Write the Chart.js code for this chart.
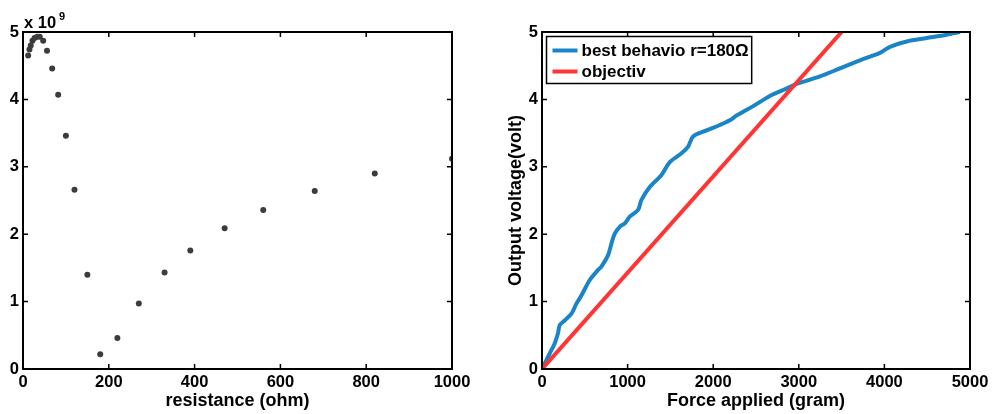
<!DOCTYPE html>
<html>
<head>
<meta charset="utf-8">
<script src="https://cdn.jsdelivr.net/npm/chart.js@4"></script>
<style>
  html, body { margin: 0; padding: 0; background: #fff; }
  #wrap { position: relative; width: 995px; height: 414px; }
  canvas { position: absolute; top: 0; }
  #leftChart { left: 0; }
  #rightChart { left: 497px; }
</style>
</head>
<body>
<div id="wrap">
  <canvas id="leftChart" width="497" height="414"></canvas>
  <canvas id="rightChart" width="498" height="414"></canvas>
</div>
<script>
// left panel: response vs resistance (y in units of 1e9)
const resistance = [12, 15, 18, 22, 27, 33, 39, 47, 56, 68, 82, 100, 120, 150, 180, 220, 270, 330, 390, 470, 560, 680, 820, 1000];
const response = [4.65, 4.74, 4.80, 4.87, 4.91, 4.93, 4.93, 4.87, 4.72, 4.46, 4.07, 3.46, 2.66, 1.40, 0.22, 0.46, 0.97, 1.43, 1.76, 2.09, 2.36, 2.64, 2.90, 3.12];
const resistanceTicks = [0, 200, 400, 600, 800, 1000];
const responseTicks = [0, 1, 2, 3, 4, 5];

// right panel: measured output vs force, and the target line
const forceG = [0, 12, 90, 148, 187, 207, 265, 344, 402, 460, 558, 655, 694, 772, 811, 850, 908, 967, 1025, 1122, 1162, 1259, 1396, 1493, 1630, 1707, 1765, 1922, 2077, 2194, 2272, 2467, 2662, 2857, 2974, 3246, 3480, 3597, 3714, 3948, 4065, 4260, 4494, 4728, 4884];
const voltage = [0, 0.03, 0.23, 0.38, 0.53, 0.65, 0.72, 0.82, 0.97, 1.09, 1.32, 1.47, 1.52, 1.69, 1.86, 2.01, 2.11, 2.16, 2.26, 2.36, 2.51, 2.70, 2.88, 3.07, 3.20, 3.30, 3.45, 3.54, 3.62, 3.69, 3.76, 3.90, 4.05, 4.16, 4.23, 4.34, 4.46, 4.52, 4.58, 4.69, 4.78, 4.86, 4.91, 4.96, 5.00];
const objectivForce = [0, 3500];
const objectivVolt = [0, 5];
const forceTicks = [0, 1000, 2000, 3000, 4000, 5000];
const voltTicks = [0, 1, 2, 3, 4, 5];

const FONT = "'Liberation Sans', Arial, Helvetica, sans-serif";
const tickFont = { family: FONT, size: 16.5, weight: 'bold' };
const titleFont = { family: FONT, size: 18, weight: 'bold' };

// matlab style box with inward ticks on all four sides
const frameTicks = {
  id: 'frameTicks',
  afterDraw(chart) {
    const { ctx, chartArea: a, scales: { x, y } } = chart;
    ctx.save();
    ctx.strokeStyle = '#000';
    ctx.lineWidth = 1.5;
    ctx.beginPath();
    x.ticks.forEach(t => {
      const px = x.getPixelForValue(t.value);
      ctx.moveTo(px, a.bottom); ctx.lineTo(px, a.bottom - 5);
      ctx.moveTo(px, a.top); ctx.lineTo(px, a.top + 5);
    });
    y.ticks.forEach(t => {
      const py = y.getPixelForValue(t.value);
      ctx.moveTo(a.left, py); ctx.lineTo(a.left + 5, py);
      ctx.moveTo(a.right, py); ctx.lineTo(a.right - 5, py);
    });
    ctx.stroke();
    ctx.lineWidth = 2;
    ctx.strokeRect(a.left, a.top, a.right - a.left, a.bottom - a.top);
    ctx.restore();
  }
};

// "x 10^9" multiplier above the left y axis
const exponentLabel = {
  id: 'exponentLabel',
  afterDraw(chart) {
    const { ctx, chartArea: a } = chart;
    ctx.save();
    ctx.fillStyle = '#000';
    ctx.textBaseline = 'alphabetic';
    ctx.font = `bold 16.5px ${FONT}`;
    ctx.fillText('x 10', a.left + 1, a.top - 4);
    const w = ctx.measureText('x 10').width;
    ctx.font = `bold 11px ${FONT}`;
    ctx.fillText('9', a.left + w + 4, a.top - 12);
    ctx.restore();
  }
};

// boxed legend in the upper left of the plot area
const boxLegend = {
  id: 'boxLegend',
  afterDraw(chart) {
    const { ctx, chartArea: a } = chart;
    const items = chart.data.datasets;
    ctx.save();
    ctx.font = `bold 17px ${FONT}`;
    const textW = Math.max(...items.map(d => ctx.measureText(d.label).width));
    const x0 = a.left + 4.5, y0 = a.top + 4.5;
    const w = 35 + textW + 3, h = 47;
    ctx.fillStyle = '#fff';
    ctx.fillRect(x0, y0, w, h);
    ctx.strokeStyle = '#000';
    ctx.lineWidth = 1.5;
    ctx.strokeRect(x0, y0, w, h);
    items.forEach((d, i) => {
      const cy = y0 + 14 + i * 21;
      ctx.strokeStyle = d.borderColor;
      ctx.lineWidth = 4;
      ctx.beginPath();
      ctx.moveTo(x0 + 6, cy); ctx.lineTo(x0 + 31, cy);
      ctx.stroke();
      ctx.fillStyle = '#000';
      ctx.textBaseline = 'middle';
      ctx.fillText(d.label, x0 + 35, cy + 1);
    });
    ctx.restore();
  }
};

function axisX(min, max, ticks, title) {
  return {
    type: 'linear', min, max,
    afterBuildTicks: axis => { axis.ticks = ticks.map(v => ({ value: v })); },
    afterFit: axis => { axis.height = 45; },
    grid: { display: false, drawTicks: false },
    border: { display: false },
    ticks: { color: '#000', font: tickFont, padding: 4, maxRotation: 0, callback: v => String(v) },
    title: { display: true, text: title, color: '#000', font: titleFont, padding: { top: 0, bottom: 2 } }
  };
}

function axisY(min, max, ticks, width, title) {
  return {
    type: 'linear', min, max,
    afterBuildTicks: axis => { axis.ticks = ticks.map(v => ({ value: v })); },
    afterFit: axis => { axis.width = width; },
    grid: { display: false, drawTicks: false },
    border: { display: false },
    ticks: { color: '#000', font: tickFont, padding: 4, callback: v => String(v) },
    title: title
      ? { display: true, text: title, color: '#000', font: titleFont, padding: { top: 8, bottom: 0 } }
      : { display: false }
  };
}

new Chart(document.getElementById('leftChart'), {
  type: 'scatter',
  data: {
    datasets: [{
      label: 'response',
      data: resistance.map((r, i) => ({ x: r, y: response[i] })),
      pointRadius: 3,
      pointBackgroundColor: '#3c3c3c',
      pointBorderWidth: 0
    }]
  },
  options: {
    responsive: false,
    animation: false,
    layout: { padding: { left: 0, right: 45, top: 32, bottom: 0 } },
    plugins: { legend: { display: false }, tooltip: { enabled: false } },
    scales: {
      x: axisX(0, 1000, resistanceTicks, 'resistance (ohm)'),
      y: axisY(0, 5, responseTicks, 23, null)
    }
  },
  plugins: [frameTicks, exponentLabel]
});

new Chart(document.getElementById('rightChart'), {
  type: 'scatter',
  data: {
    datasets: [{
      label: 'best behavio r=180\u03A9',
      data: forceG.map((f, i) => ({ x: f, y: voltage[i] })),
      showLine: true,
      borderColor: '#1a84c8',
      borderWidth: 4,
      pointRadius: 0,
      tension: 0.3,
      order: 1
    }, {
      label: 'objectiv',
      data: objectivForce.map((f, i) => ({ x: f, y: objectivVolt[i] })),
      showLine: true,
      borderColor: '#ff3535',
      borderWidth: 4,
      pointRadius: 0,
      order: 0
    }]
  },
  options: {
    responsive: false,
    animation: false,
    layout: { padding: { left: 0, right: 25, top: 32, bottom: 0 } },
    plugins: { legend: { display: false }, tooltip: { enabled: false } },
    scales: {
      x: axisX(0, 5000, forceTicks, 'Force applied (gram)'),
      y: axisY(0, 5, voltTicks, 45, 'Output voltage(volt)')
    }
  },
  plugins: [frameTicks, boxLegend]
});
</script>
</body>
</html>
